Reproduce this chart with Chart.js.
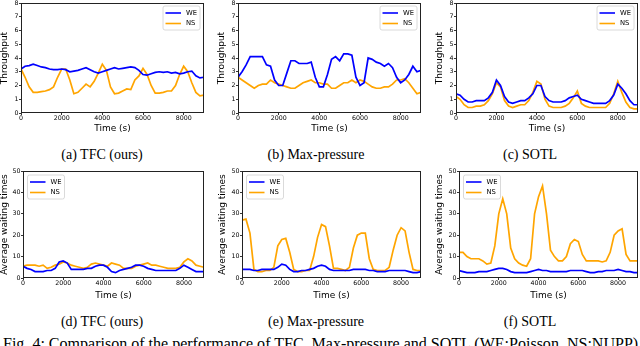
<!DOCTYPE html>
<html>
<head>
<meta charset="utf-8">
<script src="https://cdn.jsdelivr.net/npm/chart.js@4.4.0/dist/chart.umd.min.js"></script>
<style>
  html, body { margin: 0; padding: 0; background: #fff; }
  body { width: 640px; height: 346px; position: relative; overflow: hidden; }
  canvas { position: absolute; }
  .cap { position: absolute; font-family: 'Liberation Serif', serif; font-size: 14px; line-height: 14px;
         white-space: nowrap; transform: translateX(-50%); color: #000; }
  #figcap { position: absolute; left: 3px; top: 336px; font-family: 'Liberation Serif', serif;
            font-size: 16px; line-height: 16px; white-space: nowrap; color: #000; transform-origin: 0 0; }
</style>
</head>
<body>
<canvas id="c_a" width="206" height="136" style="left:0px;top:-3px"></canvas>
<canvas id="c_b" width="206" height="136" style="left:217px;top:-3px"></canvas>
<canvas id="c_c" width="205" height="136" style="left:435px;top:-3px"></canvas>
<canvas id="c_d" width="206" height="135" style="left:0px;top:165px"></canvas>
<canvas id="c_e" width="205" height="135" style="left:218px;top:165px"></canvas>
<canvas id="c_f" width="205" height="135" style="left:435px;top:165px"></canvas>

<div class="cap" style="left:102px;top:148px">(a) TFC (ours)</div>
<div class="cap" style="left:316px;top:148px">(b) Max-pressure</div>
<div class="cap" style="left:530px;top:148px">(c) SOTL</div>
<div class="cap" style="left:102px;top:315px">(d) TFC (ours)</div>
<div class="cap" style="left:316px;top:315px">(e) Max-pressure</div>
<div class="cap" style="left:530px;top:315px">(f) SOTL</div>
<div id="figcap">Fig. 4: Comparison of the performance of TFC, Max-pressure and SOTL (WE:Poisson, NS:NUPP)</div>

<script>
// time grid, one sample every 200 s
const timeSec = [];
for (let t = 0; t <= 9000; t += 200) timeSec.push(t);

const timeTicks = [0, 2000, 4000, 6000, 8000];
const throughputTicks = [0, 1, 2, 3, 4, 5, 6, 7, 8];
const waitTicks = [0, 10, 20, 30, 40, 50];
const seriesNames = ['WE', 'NS'];
const seriesColors = ['#0000ff', '#ffa500'];

// throughput
const tfcThroughWE = [3.2, 3.4, 3.45, 3.55, 3.45, 3.35, 3.3, 3.2, 3.15, 3.15,
    3.2, 3.15, 3.0, 3.05, 3.1, 3.2, 3.3, 3.15, 3.0, 2.9,
    3.0, 3.1, 3.2, 3.3, 3.2, 3.25, 3.3, 3.35, 3.3, 3.1,
    2.8, 2.75, 2.85, 2.95, 3.0, 2.95, 3.0, 2.9, 2.95, 2.85,
    2.9, 3.0, 3.05, 2.7, 2.55, 2.6];
const tfcThroughNS = [3.2, 2.6, 1.9, 1.5, 1.5, 1.55, 1.6, 1.7, 1.9, 2.6,
    3.2, 3.2, 2.4, 1.4, 1.5, 1.8, 2.1, 1.9, 2.3, 2.9,
    3.55, 3.1, 1.9, 1.4, 1.45, 1.6, 1.75, 1.7, 2.4, 2.7,
    3.25, 2.8, 2.0, 1.45, 1.45, 1.5, 1.6, 1.6, 2.0, 2.8,
    3.4, 3.0, 2.2, 1.5, 1.25, 1.3];
const mpThroughWE = [2.6, 3.0, 3.5, 4.1, 4.1, 4.1, 4.1, 3.5, 3.4, 2.4,
    2.0, 2.0, 2.9, 3.8, 3.8, 3.6, 3.6, 3.6, 3.7, 2.6,
    1.9, 1.9, 2.8, 3.9, 4.1, 3.8, 4.3, 4.3, 4.2, 2.6,
    2.0, 2.2, 4.0, 3.9, 3.7, 3.6, 3.4, 3.6, 3.3, 2.6,
    2.2, 2.4, 2.8, 3.4, 3.0, 3.1];
const mpThroughNS = [2.6, 2.4, 2.2, 2.0, 1.8, 2.0, 2.1, 2.1, 2.4, 2.2,
    2.1, 2.0, 1.9, 1.8, 1.8, 2.0, 2.2, 2.3, 2.4, 2.2,
    2.2, 2.1, 2.1, 1.8, 1.8, 2.0, 2.2, 2.2, 2.4, 2.2,
    2.4, 2.3, 2.1, 1.9, 1.8, 1.8, 1.9, 1.9, 2.1, 2.4,
    2.4, 2.5, 2.2, 1.8, 1.4, 1.5];
const sotlThroughWE = [1.4, 1.3, 1.0, 0.8, 0.8, 0.9, 0.9, 0.9, 1.1, 1.5,
    2.4, 2.0, 1.2, 0.8, 0.7, 0.8, 0.9, 0.9, 1.1, 1.4,
    2.0, 2.0, 1.2, 0.9, 0.8, 0.8, 0.8, 0.9, 1.1, 1.2,
    1.3, 1.0, 0.9, 0.8, 0.7, 0.7, 0.7, 0.7, 0.9, 1.3,
    2.1, 1.8, 1.4, 0.9, 0.6, 0.6];
const sotlThroughNS = [1.2, 1.0, 0.6, 0.4, 0.4, 0.5, 0.5, 0.6, 0.9, 1.4,
    2.2, 1.9, 0.9, 0.5, 0.4, 0.5, 0.6, 0.6, 0.9, 1.5,
    2.3, 2.1, 1.0, 0.5, 0.4, 0.4, 0.4, 0.5, 0.7, 1.1,
    1.6, 0.7, 0.5, 0.4, 0.4, 0.4, 0.4, 0.4, 0.7, 1.4,
    2.3, 1.5, 0.8, 0.4, 0.3, 0.3];

// average waiting times
const tfcWaitWE = [5.5, 4.5, 4.0, 3.0, 3.0, 3.0, 3.5, 3.5, 4.5, 7.5,
    8.0, 7.0, 4.0, 4.0, 4.0, 4.0, 4.5, 4.5, 5.5, 6.0,
    6.0, 5.0, 3.0, 2.5, 3.5, 4.0, 4.5, 5.0, 6.0, 6.0,
    5.5, 4.5, 4.0, 3.5, 3.5, 3.5, 3.5, 3.5, 3.5, 4.5,
    6.0, 5.0, 4.0, 3.0, 3.0, 3.0];
const tfcWaitNS = [5.5, 6.0, 6.0, 6.0, 5.5, 6.0, 4.5, 5.0, 6.0, 6.5,
    7.5, 7.0, 6.0, 5.5, 5.0, 4.5, 5.0, 6.5, 7.0, 6.5,
    6.0, 5.5, 7.0, 6.5, 6.0, 4.5, 4.5, 4.5, 5.5, 6.0,
    6.5, 7.0, 6.0, 6.0, 5.5, 5.0, 4.5, 4.5, 4.5, 5.0,
    7.5, 9.0, 8.0, 6.0, 5.5, 5.0];
const mpWaitWE = [4.0, 4.0, 4.0, 3.5, 3.5, 4.0, 4.0, 4.0, 4.0, 5.0,
    6.5, 6.0, 4.0, 3.0, 3.0, 3.5, 3.5, 4.0, 4.5, 5.5,
    6.0, 5.5, 4.0, 3.5, 3.5, 3.5, 3.5, 3.5, 4.0, 4.0,
    4.0, 4.0, 3.5, 3.5, 3.0, 3.0, 3.0, 3.5, 3.5, 3.5,
    3.5, 3.5, 3.0, 2.5, 2.5, 3.0];
const mpWaitNS = [27, 27.5, 21, 4, 3, 3, 3.5, 3.5, 5, 15,
    18, 18.5, 12, 4, 3, 3, 3.5, 3.5, 10, 19,
    25, 24, 15, 4.5, 4.5, 4, 3.5, 5, 14, 20,
    21, 21, 9, 4, 3.5, 3.5, 3.5, 5, 13, 20,
    23.5, 22, 12, 4, 3.5, 3.5];
const sotlWaitWE = [3.5, 3.0, 2.5, 2.5, 2.5, 3.0, 3.0, 3.0, 3.5, 4.0,
    4.5, 4.5, 4.0, 3.0, 2.5, 2.5, 2.5, 2.5, 3.0, 3.5,
    4.0, 3.5, 3.5, 3.0, 3.0, 3.0, 3.0, 3.0, 3.5, 3.5,
    3.5, 3.5, 3.0, 2.5, 2.5, 3.0, 3.0, 3.5, 3.5, 3.5,
    4.0, 3.5, 3.0, 3.0, 2.5, 2.5];
const sotlWaitNS = [12, 12, 10, 9, 9, 9, 8, 6.5, 7, 15,
    30, 37, 30, 14, 9, 7, 6, 5.5, 9, 30,
    38, 43, 30, 13, 10, 8, 8, 10, 16, 18,
    17, 11, 8, 8, 8, 8, 7.5, 8, 12, 20,
    22, 23, 11, 8, 8, 8];

Chart.defaults.font.family = "'DejaVu Sans'";
Chart.defaults.color = '#000';

// frame round the plot and the small boxed legend
const frameAndLegend = {
    id: 'boxLegend',
    afterDatasetsDraw(chart, args, opts) {
        const a = chart.chartArea;
        const c = chart.ctx;
        c.save();
        c.strokeStyle = '#222';
        c.lineWidth = 1;
        c.strokeRect(a.left + 0.5, a.top + 0.5, a.right - a.left - 1, a.bottom - a.top - 1);

        const w = 37, h = 24;
        const x0 = opts.side === 'right' ? a.right - 41 : a.left + 4.5;
        const y0 = opts.side === 'right' ? a.top + 3 : a.top + 4;
        c.fillStyle = 'rgba(255,255,255,0.8)';
        c.strokeStyle = '#d0d0d0';
        c.lineWidth = 0.8;
        c.beginPath();
        if (c.roundRect) c.roundRect(x0, y0, w, h, 2); else c.rect(x0, y0, w, h);
        c.fill();
        c.stroke();
        chart.data.datasets.forEach((ds, k) => {
            const yy = y0 + 7 + k * 10.5;
            c.strokeStyle = ds.borderColor;
            c.lineWidth = 1.6;
            c.beginPath();
            c.moveTo(x0 + 2.5, yy);
            c.lineTo(x0 + 18, yy);
            c.stroke();
            c.fillStyle = '#000';
            c.font = '6.8px "DejaVu Sans"';
            c.textBaseline = 'middle';
            c.textAlign = 'left';
            c.fillText(ds.label, x0 + 23, yy);
        });
        c.restore();
    }
};

function makePanel(id, we, ns, yTicks, yTitle, legendSide, yW, xH) {
    const ctx = document.getElementById(id).getContext('2d');
    const tickGrid = {display: true, drawOnChartArea: false, drawTicks: true, tickLength: 2, color: '#000', lineWidth: 0.8};
    return new Chart(ctx, {
        type: 'line',
        data: {
            datasets: [we, ns].map((vals, k) => ({
                label: seriesNames[k],
                data: vals.map((v, i) => ({x: timeSec[i], y: v})),
                borderColor: seriesColors[k],
                borderWidth: 1.7,
                pointRadius: 0,
                tension: 0,
                fill: false
            }))
        },
        options: {
            responsive: false,
            animation: false,
            devicePixelRatio: 1,
            layout: {padding: {top: 6, right: 2, left: 0, bottom: 0}},
            plugins: {
                legend: {display: false},
                tooltip: {enabled: false},
                boxLegend: {side: legendSide}
            },
            scales: {
                x: {
                    type: 'linear', min: 0, max: 9000,
                    afterBuildTicks: s => { s.ticks = timeTicks.map(v => ({value: v})); },
                    afterFit: s => { s.height = xH; },
                    ticks: {autoSkip: false, maxRotation: 0, padding: 0, font: {size: 6.3}, color: '#000',
                            callback: v => String(v)},
                    grid: tickGrid,
                    border: {display: false},
                    title: {display: true, text: 'Time (s)', font: {size: 9, lineHeight: 1}, padding: 0, color: '#000'}
                },
                y: {
                    type: 'linear', min: 0, max: yTicks[yTicks.length - 1],
                    afterBuildTicks: s => { s.ticks = yTicks.map(v => ({value: v})); },
                    afterFit: s => { s.width = yW; },
                    ticks: {autoSkip: false, padding: 0.5, font: {size: 6.3}, color: '#000',
                            callback: v => String(v)},
                    grid: tickGrid,
                    border: {display: false},
                    title: {display: true, text: yTitle, font: {size: 9, lineHeight: 1}, padding: 0, color: '#000'}
                }
            }
        },
        plugins: [frameAndLegend]
    });
}

makePanel('c_a', tfcThroughWE, tfcThroughNS, throughputTicks, 'Throughput', 'right', 21, 20);
makePanel('c_b', mpThroughWE, mpThroughNS, throughputTicks, 'Throughput', 'right', 21, 20);
makePanel('c_c', sotlThroughWE, sotlThroughNS, throughputTicks, 'Throughput', 'right', 21, 20);
makePanel('c_d', tfcWaitWE, tfcWaitNS, waitTicks, 'Average waiting times', 'left', 23, 22);
makePanel('c_e', mpWaitWE, mpWaitNS, waitTicks, 'Average waiting times', 'left', 24, 22);
makePanel('c_f', sotlWaitWE, sotlWaitNS, waitTicks, 'Average waiting times', 'left', 24, 22);

// stretch the figure caption to the width it has in the paper
const figcap = document.getElementById('figcap');
figcap.style.transform = 'scaleX(' + (635 / figcap.offsetWidth) + ')';
</script>
</body>
</html>
